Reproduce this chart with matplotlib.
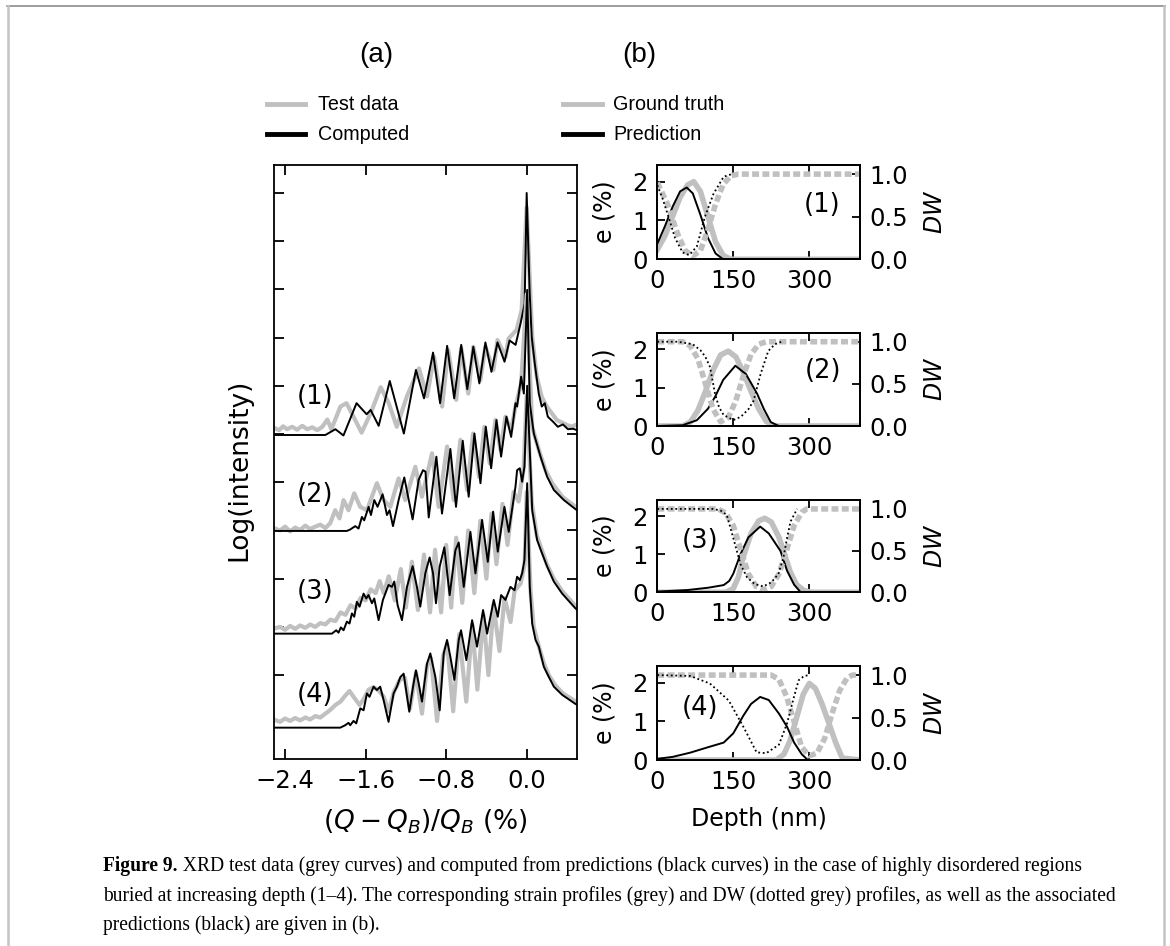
import matplotlib
matplotlib.use('Agg')
import matplotlib.pyplot as plt
from matplotlib.lines import Line2D
from matplotlib.ticker import FormatStrFormatter

# ---------------- data: panel (a) XRD curves ----------------
q_calc1 = [-2.50, -2.00, -1.90, -1.82, -1.69, -1.59, -1.55, -1.47, -1.36, -1.22, -1.10, -1.02, -0.93, -0.86,
           -0.79, -0.72, -0.65, -0.59, -0.53, -0.47, -0.41, -0.35, -0.29, -0.22, -0.17, -0.11, -0.06, -0.02,
           0.00, 0.03, 0.05, 0.08, 0.12, 0.15, 0.18, 0.21, 0.26, 0.31, 0.36, 0.41, 0.46, 0.50]
i_calc1 = [4.98, 4.98, 5.10, 4.97, 5.64, 5.41, 5.50, 5.17, 6.10, 5.01, 6.33, 5.74, 6.69, 5.64,
           6.83, 5.74, 6.85, 5.93, 6.81, 6.05, 6.90, 6.29, 6.90, 6.50, 6.94, 6.85, 7.30, 7.71,
           10.0, 7.92, 7.02, 6.47, 5.84, 5.57, 5.64, 5.36, 5.26, 5.15, 5.20, 5.10, 5.11, 5.08]
q_test1 = [-2.50, -2.46, -2.42, -2.38, -2.33, -2.28, -2.23, -2.18, -2.13, -2.08, -2.03, -1.98, -1.94, -1.85,
           -1.79, -1.72, -1.64, -1.55, -1.45, -1.37, -1.29, -1.19, -1.07, -0.99, -0.92, -0.84, -0.78, -0.70,
           -0.65, -0.58, -0.53, -0.46, -0.41, -0.33, -0.29, -0.21, -0.18, -0.10, -0.05, 0.00, 0.055, 0.10,
           0.15, 0.20, 0.25, 0.30, 0.37, 0.44, 0.49]
i_test1 = [5.12, 5.08, 5.16, 5.10, 5.15, 5.09, 5.17, 5.10, 5.14, 5.08, 5.15, 5.30, 5.10, 5.57,
           5.64, 5.36, 5.03, 5.43, 5.97, 5.64, 5.15, 5.78, 6.36, 5.78, 6.60, 5.57, 6.74, 5.71,
           6.78, 5.84, 6.81, 6.12, 6.81, 6.33, 6.95, 6.60, 6.98, 7.16, 7.57, 9.70, 7.02, 6.19,
           5.77, 5.57, 5.43, 5.29, 5.22, 5.15, 5.19]

q_calc2 = [-2.50, -1.786, -1.753, -1.703, -1.670, -1.637, -1.614, -1.570, -1.547, -1.514, -1.481, -1.431,
           -1.388, -1.362, -1.328, -1.272, -1.216, -1.133, -1.073, -1.030, -1.005, -0.973, -0.897, -0.841,
           -0.758, -0.702, -0.635, -0.576, -0.519, -0.459, -0.406, -0.353, -0.300, -0.254, -0.201, -0.154,
           -0.111, -0.095, -0.055, -0.028, 0.005, 0.031, 0.071, 0.138, 0.204, 0.270, 0.370, 0.486, 0.50]
i_calc2 = [2.99, 2.99, 3.02, 3.09, 3.04, 3.28, 3.21, 3.49, 3.32, 3.63, 3.49, 3.75,
           3.32, 3.42, 3.09, 3.63, 4.10, 3.23, 4.05, 4.25, 4.22, 3.27, 4.53, 3.35,
           4.69, 3.49, 4.86, 3.70, 5.01, 3.98, 5.15, 4.29, 5.29, 4.53, 5.36, 4.94,
           5.64, 5.57, 6.19, 5.84, 7.99, 5.64, 5.01, 4.53, 4.11, 3.84, 3.63, 3.44, 3.42]
q_test2 = [-2.50, -2.45, -2.40, -2.35, -2.30, -2.25, -2.20, -2.15, -2.10, -2.05, -2.00, -1.952, -1.902,
           -1.859, -1.819, -1.770, -1.713, -1.654, -1.587, -1.488, -1.421, -1.355, -1.272, -1.206, -1.106,
           -1.040, -0.940, -0.874, -0.791, -0.725, -0.658, -0.592, -0.532, -0.473, -0.420, -0.367, -0.310,
           -0.260, -0.211, -0.154, -0.111, -0.055, 0.00, 0.055, 0.121, 0.187, 0.254, 0.353, 0.486, 0.50]
i_test2 = [3.04, 3.00, 3.08, 2.98, 3.06, 3.01, 3.10, 3.03, 3.08, 3.12, 3.05, 3.15, 3.42,
           3.25, 3.63, 3.42, 3.77, 3.49, 3.42, 3.98, 3.63, 3.49, 4.08, 3.63, 4.32,
           3.70, 4.60, 3.49, 4.74, 3.63, 4.88, 3.84, 5.01, 4.11, 5.15, 4.39, 5.29,
           4.67, 5.36, 5.08, 5.57, 6.05, 7.90, 5.15, 4.67, 4.25, 3.98, 3.70, 3.49, 3.48]

q_calc3 = [-2.50, -1.935, -1.892, -1.869, -1.846, -1.819, -1.786, -1.760, -1.736, -1.713, -1.687, -1.660,
           -1.620, -1.594, -1.571, -1.537, -1.514, -1.471, -1.428, -1.372, -1.338, -1.315, -1.282, -1.239,
           -1.189, -1.133, -1.090, -1.057, -1.007, -0.964, -0.930, -0.901, -0.864, -0.818, -0.765, -0.708,
           -0.675, -0.625, -0.559, -0.509, -0.443, -0.386, -0.333, -0.287, -0.221, -0.178, -0.111, -0.095,
           -0.068, -0.045, -0.022, 0.005, 0.055, 0.104, 0.154, 0.204, 0.270, 0.353, 0.486, 0.50]
i_calc3 = [0.86, 0.86, 0.93, 0.88, 0.99, 0.93, 1.11, 1.07, 1.28, 1.21, 1.52, 1.42,
           1.69, 1.59, 1.66, 1.49, 1.59, 1.14, 1.56, 1.87, 1.83, 1.94, 1.45, 1.14,
           1.83, 2.26, 1.83, 1.42, 2.11, 2.44, 2.11, 1.49, 2.25, 2.65, 1.66, 2.59,
           2.75, 1.83, 2.97, 2.11, 3.22, 2.35, 3.39, 2.56, 3.49, 2.97, 3.91, 4.25,
           4.29, 4.01, 4.32, 6.00, 3.42, 2.80, 2.52, 2.25, 1.94, 1.69, 1.38, 1.36]
q_test3 = [-2.50, -2.45, -2.40, -2.35, -2.30, -2.25, -2.20, -2.15, -2.10, -2.05, -2.00, -1.95, -1.90,
           -1.85, -1.80, -1.75, -1.70, -1.65, -1.60, -1.55, -1.50, -1.46, -1.42, -1.37, -1.31, -1.25,
           -1.20, -1.14, -1.08, -1.02, -0.96, -0.91, -0.85, -0.80, -0.75, -0.70, -0.64, -0.58, -0.52,
           -0.46, -0.40, -0.35, -0.30, -0.24, -0.19, -0.13, -0.08, -0.03, 0.00, 0.05, 0.10, 0.15, 0.20,
           0.27, 0.35, 0.49]
i_test3 = [0.97, 1.00, 0.94, 1.02, 0.96, 1.03, 0.98, 1.05, 1.00, 1.08, 1.05, 1.15, 1.12,
           1.30, 1.25, 1.45, 1.38, 1.60, 1.55, 1.78, 1.70, 1.95, 1.70, 2.05, 1.55, 2.20,
           1.40, 2.35, 1.35, 2.50, 1.30, 2.60, 1.30, 2.70, 1.40, 2.85, 1.50, 3.00, 1.70,
           3.20, 2.00, 3.35, 2.30, 3.55, 2.70, 3.80, 3.60, 4.30, 5.80, 3.60, 2.90, 2.60, 2.30,
           2.00, 1.75, 1.42]

q_calc4 = [-2.50, -1.852, -1.803, -1.770, -1.753, -1.720, -1.693, -1.653, -1.620, -1.587, -1.561, -1.521,
           -1.488, -1.455, -1.421, -1.372, -1.322, -1.289, -1.255, -1.222, -1.166, -1.129, -1.100, -1.073,
           -1.040, -0.990, -0.957, -0.907, -0.864, -0.824, -0.791, -0.758, -0.718, -0.675, -0.652, -0.599,
           -0.542, -0.493, -0.433, -0.393, -0.327, -0.287, -0.254, -0.211, -0.161, -0.121, -0.095, -0.068,
           -0.045, -0.022, 0.005, 0.031, 0.055, 0.088, 0.121, 0.171, 0.221, 0.270, 0.353, 0.486, 0.50]
i_calc4 = [-1.09, -1.09, -1.04, -0.99, -1.04, -0.95, -1.00, -0.69, -0.73, -0.38, -0.45, -0.24,
           -0.31, -0.24, -0.52, -0.97, -0.38, -0.24, -0.04, 0.03, -0.76, -0.24, 0.10, -0.17,
           -0.55, 0.24, 0.45, -0.04, -0.73, 0.45, 0.73, 0.38, -0.10, 0.73, 0.93, 0.31,
           1.14, 0.59, 1.35, 0.86, 1.56, 1.21, 1.66, 1.56, 1.83, 1.76, 2.04, 1.97,
           2.11, 2.39, 3.98, 1.83, 1.07, 0.73, 0.59, 0.17, -0.04, -0.24, -0.41, -0.60, -0.61]
q_test4 = [-2.50, -2.45, -2.40, -2.35, -2.30, -2.25, -2.20, -2.15, -2.10, -2.05, -2.00, -1.95, -1.90,
           -1.85, -1.80, -1.76, -1.72, -1.66, -1.62, -1.57, -1.52, -1.47, -1.42, -1.37, -1.32, -1.26,
           -1.21, -1.16, -1.10, -1.04, -0.99, -0.95, -0.89, -0.83, -0.79, -0.73, -0.67, -0.60, -0.54,
           -0.49, -0.43, -0.38, -0.33, -0.27, -0.22, -0.16, -0.12, -0.06, -0.02, 0.00, 0.04, 0.07, 0.12,
           0.17, 0.22, 0.28, 0.36, 0.49]
i_test4 = [-0.93, -0.97, -0.90, -0.95, -0.89, -0.94, -0.88, -0.92, -0.85, -0.88, -0.80, -0.72, -0.62,
           -0.55, -0.42, -0.33, -0.45, -0.62, -0.50, -0.30, -0.25, -0.32, -0.45, -0.75, -0.35, -0.10,
           -0.05, -0.70, 0.05, -0.80, 0.20, 0.35, -0.95, 0.40, 0.65, -0.75, 0.85, -0.55, 1.05,
           -0.30, 1.25, 0.00, 1.45, 0.50, 1.60, 1.10, 1.75, 1.90, 2.30, 3.80, 1.70, 1.00, 0.60,
           0.25, 0.00, -0.20, -0.38, -0.55]

xrd_calc = [(q_calc1, i_calc1), (q_calc2, i_calc2), (q_calc3, i_calc3), (q_calc4, i_calc4)]
xrd_test = [(q_test1, i_test1), (q_test2, i_test2), (q_test3, i_test3), (q_test4, i_test4)]
curve_labels = ['(1)', '(2)', '(3)', '(4)']
curve_label_y = [5.77, 3.73, 1.72, -0.41]
a_xticks = [-2.4, -1.6, -0.8, 0.0]

# ---------------- data: panel (b) strain / DW profiles ----------------
gt_e_depth = [
    [0, 15, 30, 45, 60, 72, 85, 100, 115, 130, 145, 400],
    [0, 50, 65, 80, 95, 110, 125, 140, 155, 170, 185, 200, 215, 230, 400],
    [0, 135, 150, 160, 170, 185, 200, 212, 225, 240, 250, 262, 275, 290, 305, 400],
    [0, 235, 250, 262, 275, 288, 300, 312, 325, 340, 352, 365, 400],
]
gt_e = [
    [0.25, 0.6, 1.1, 1.6, 1.92, 2.0, 1.75, 1.1, 0.45, 0.1, 0.0, 0.0],
    [0, 0, 0.1, 0.4, 0.9, 1.45, 1.85, 1.95, 1.8, 1.4, 0.9, 0.45, 0.12, 0, 0],
    [0, 0, 0.1, 0.4, 0.95, 1.55, 1.88, 1.95, 1.85, 1.45, 1.05, 0.55, 0.2, 0.04, 0, 0],
    [0, 0, 0.15, 0.5, 1.1, 1.7, 1.98, 1.85, 1.45, 0.9, 0.45, 0.05, 0],
]
pred_e_depth = [
    [0, 15, 30, 45, 58, 70, 85, 100, 115, 130, 140, 400],
    [0, 50, 78, 100, 114, 130, 154, 175, 197, 210, 224, 240, 400],
    [0, 60, 100, 131, 142, 150, 164, 180, 203, 220, 243, 256, 270, 283, 400],
    [0, 30, 65, 100, 131, 150, 170, 185, 203, 220, 240, 256, 270, 285, 297, 400],
]
pred_e = [
    [0.4, 0.85, 1.35, 1.75, 1.85, 1.7, 1.15, 0.55, 0.15, 0.0, 0.0, 0.0],
    [0, 0.02, 0.15, 0.45, 0.76, 1.2, 1.57, 1.35, 0.84, 0.45, 0.1, 0.0, 0],
    [0.02, 0.06, 0.12, 0.19, 0.3, 0.49, 1.0, 1.45, 1.73, 1.55, 1.09, 0.57, 0.2, 0.0, 0.0],
    [0.03, 0.08, 0.19, 0.33, 0.45, 0.69, 1.15, 1.45, 1.63, 1.55, 1.2, 0.86, 0.45, 0.15, 0.0, 0.0],
]
gt_dw_depth = [
    [0, 20, 40, 55, 70, 85, 100, 115, 130, 145, 160, 400],
    [0, 50, 65, 80, 95, 110, 125, 140, 155, 170, 185, 200, 215, 400],
    [0, 120, 135, 150, 165, 180, 195, 210, 225, 240, 255, 270, 285, 295, 400],
    [0, 225, 240, 255, 270, 285, 300, 315, 330, 345, 360, 375, 385, 400],
]
gt_dw = [
    [0.9, 0.65, 0.3, 0.1, 0.04, 0.1, 0.35, 0.65, 0.88, 0.98, 1.0, 1.0],
    [1.0, 1.0, 0.95, 0.8, 0.5, 0.2, 0.05, 0.1, 0.3, 0.6, 0.85, 0.97, 1.0, 1.0],
    [1.0, 1.0, 0.95, 0.8, 0.5, 0.22, 0.07, 0.03, 0.07, 0.22, 0.5, 0.8, 0.96, 1.0, 1.0],
    [1.0, 1.0, 0.95, 0.75, 0.45, 0.15, 0.05, 0.08, 0.25, 0.55, 0.82, 0.97, 1.0, 1.0],
]
pred_dw_depth = [
    [0, 10, 22, 35, 50, 63, 78, 94, 111, 131, 147],
    [0, 40, 70, 85, 95, 104, 114, 122, 131, 150, 165, 180, 190, 204, 219, 232, 245],
    [0, 110, 125, 137, 150, 164, 177, 192, 209, 225, 239, 249, 256, 263, 276],
    [0, 65, 104, 141, 170, 196, 215, 240, 256, 270, 279, 290, 300],
]
pred_dw = [
    [0.87, 0.72, 0.5, 0.25, 0.08, 0.05, 0.15, 0.5, 0.77, 0.97, 1.0],
    [1.0, 1.0, 0.97, 0.9, 0.82, 0.7, 0.38, 0.22, 0.13, 0.07, 0.11, 0.2, 0.3, 0.62, 0.89, 0.97, 1.0],
    [1.0, 1.0, 0.98, 0.93, 0.65, 0.34, 0.18, 0.1, 0.07, 0.12, 0.22, 0.42, 0.65, 0.85, 1.0],
    [1.0, 0.99, 0.9, 0.7, 0.39, 0.09, 0.08, 0.18, 0.43, 0.75, 0.94, 0.99, 1.0],
]
b_label_pos = [(326, 1.40), (326, 1.44), (85, 1.35), (85, 1.34)]
b_xticks = [0, 150, 300]
b_eticks = [0, 1, 2]
b_dwticks = [0.0, 0.5, 1.0]

caption_bold = 'Figure 9.'
caption_lines = [
    ' XRD test data (grey curves) and computed from predictions (black curves) in the case of highly disordered regions',
    'buried at increasing depth (1\u20134). The corresponding strain profiles (grey) and DW (dotted grey) profiles, as well as the associated',
    'predictions (black) are given in (b).',
]

# ---------------- style ----------------
GREY = '#c0c0c0'
TICK_FS = 17.5
A_LABEL_FS = 19
B_LABEL_FS = 17
W, H = 1170, 946

fig = plt.figure(figsize=(W / 100, H / 100), dpi=100)


def fx(px):
    return px / W


def fy(py):
    return 1 - py / H


def axes_px(left, top, right, bottom):
    return fig.add_axes([fx(left), fy(bottom), fx(right) - fx(left), fy(top) - fy(bottom)])


# ---------------- panel (a) ----------------
ax = axes_px(274, 165, 577, 759)
for (qt, it), (qc, ic) in zip(xrd_test, xrd_calc):
    ax.plot(qt, it, color=GREY, lw=3.0, solid_joinstyle='round')
    ax.plot(qc, ic, color='black', lw=1.4, solid_joinstyle='round')
for lab, yy in zip(curve_labels, curve_label_y):
    ax.text(-2.10, yy, lab, fontsize=18.5, ha='center', va='center')
ax.set_xlim(-2.51, 0.50)
ax.set_ylim(-1.74, 10.58)
ax.set_xticks(a_xticks)
ax.set_xticklabels([f'{v:.1f}'.replace('-', '\u2212') for v in a_xticks])
ax.set_yticks(range(0, 11))
ax.set_yticklabels([])
ax.tick_params(direction='in', top=True, right=True, length=7, width=1.3,
               labelsize=TICK_FS, pad=7)
for s in ax.spines.values():
    s.set_linewidth(1.3)
ax.set_xlabel(r'$(Q-Q_B)/Q_B$ (%)', fontsize=A_LABEL_FS)
ax.xaxis.set_label_coords(0.5, -0.082)
ax.set_ylabel('Log(intensity)', fontsize=A_LABEL_FS)
ax.yaxis.set_label_coords(-0.073, 0.487)

# ---------------- panel (b) ----------------
b_rows = [(165, 259.3), (332.7, 426), (500, 592.3), (666, 760)]
for k, (top, bot) in enumerate(b_rows):
    axb = axes_px(657.3, top, 860, bot)
    axb.plot(gt_e_depth[k], gt_e[k], color=GREY, lw=4.0)
    axb.plot(pred_e_depth[k], pred_e[k], color='black', lw=1.4)
    axb.set_xlim(0, 400)
    axb.set_ylim(0, 2.43)
    axb.set_xticks(b_xticks)
    axb.set_yticks(b_eticks)
    axb.tick_params(direction='in', top=True, length=6, width=1.3, labelsize=TICK_FS, pad=7)
    axb.set_ylabel('e (%)', fontsize=B_LABEL_FS)
    axb.yaxis.set_label_coords(-0.199, 0.5)
    axb.text(b_label_pos[k][0], b_label_pos[k][1], curve_labels[k], fontsize=18.5,
             ha='center', va='center')
    tw = axb.twinx()
    tw.plot(gt_dw_depth[k], gt_dw[k], color=GREY, lw=4.0, linestyle=(0, (1.25, 0.6)),
            dash_capstyle='butt')
    tw.plot(pred_dw_depth[k], pred_dw[k], color='black', lw=1.3, linestyle=(0, (1, 1.5)))
    tw.set_ylim(0, 1.107)
    tw.set_yticks(b_dwticks)
    tw.yaxis.set_major_formatter(FormatStrFormatter('%.1f'))
    tw.tick_params(direction='in', length=6, width=1.3, labelsize=TICK_FS, pad=7)
    tw.set_ylabel(r'$DW$', fontsize=B_LABEL_FS)
    tw.yaxis.set_label_coords(1.31, 0.5)
    for a_ in (axb, tw):
        for s in a_.spines.values():
            s.set_linewidth(1.3)
    if k == 3:
        axb.set_xlabel('Depth (nm)', fontsize=B_LABEL_FS)
        axb.xaxis.set_label_coords(0.5, -0.5)

# ---------------- titles and legends ----------------
SANS = 'Liberation Sans'
fig.text(fx(376), fy(55), '(a)', fontsize=20, family=SANS, ha='center', va='center')
fig.text(fx(639), fy(55), '(b)', fontsize=20, family=SANS, ha='center', va='center')
legend_items = [
    (267, 305, 318, 104, GREY, 'Test data'),
    (267, 305, 318, 134, 'black', 'Computed'),
    (563, 602, 613, 104, GREY, 'Ground truth'),
    (563, 602, 613, 134, 'black', 'Prediction'),
]
for x0, x1, xt, yy, col, txt in legend_items:
    fig.add_artist(Line2D([fx(x0), fx(x1)], [fy(yy), fy(yy)], color=col, lw=3.5,
                          transform=fig.transFigure))
    fig.text(fx(xt), fy(yy), txt, fontsize=14.2, family=SANS, ha='left', va='center')

# ---------------- frame ----------------
fig.add_artist(Line2D([fx(7), fx(1165)], [fy(6), fy(6)], color='#8c8c8c', lw=1.2,
                      transform=fig.transFigure))
fig.add_artist(Line2D([fx(8), fx(8)], [fy(6), fy(946)], color='#c4c4c4', lw=1.8,
                      transform=fig.transFigure))
fig.add_artist(Line2D([fx(1164), fx(1164)], [fy(6), fy(946)], color='#c4c4c4', lw=1.8,
                      transform=fig.transFigure))

# ---------------- caption ----------------
SERIF = 'Liberation Serif'
renderer = fig.canvas.get_renderer()
target_width = 1113 - 103
probe = fig.text(0, 0, caption_lines[1], fontsize=13, family=SERIF)
w13 = probe.get_window_extent(renderer).width
probe.remove()
cap_fs = 13 * target_width / w13
bold = fig.text(fx(103), fy(866), caption_bold, fontsize=cap_fs, family=SERIF,
                weight='bold', ha='left', va='center')
bw = bold.get_window_extent(renderer).width
fig.text(fx(103 + bw), fy(866), caption_lines[0], fontsize=cap_fs, family=SERIF,
         ha='left', va='center')
fig.text(fx(103), fy(896), caption_lines[1], fontsize=cap_fs, family=SERIF, ha='left', va='center')
fig.text(fx(103), fy(925), caption_lines[2], fontsize=cap_fs, family=SERIF, ha='left', va='center')

fig.savefig('out.png', dpi=100)
